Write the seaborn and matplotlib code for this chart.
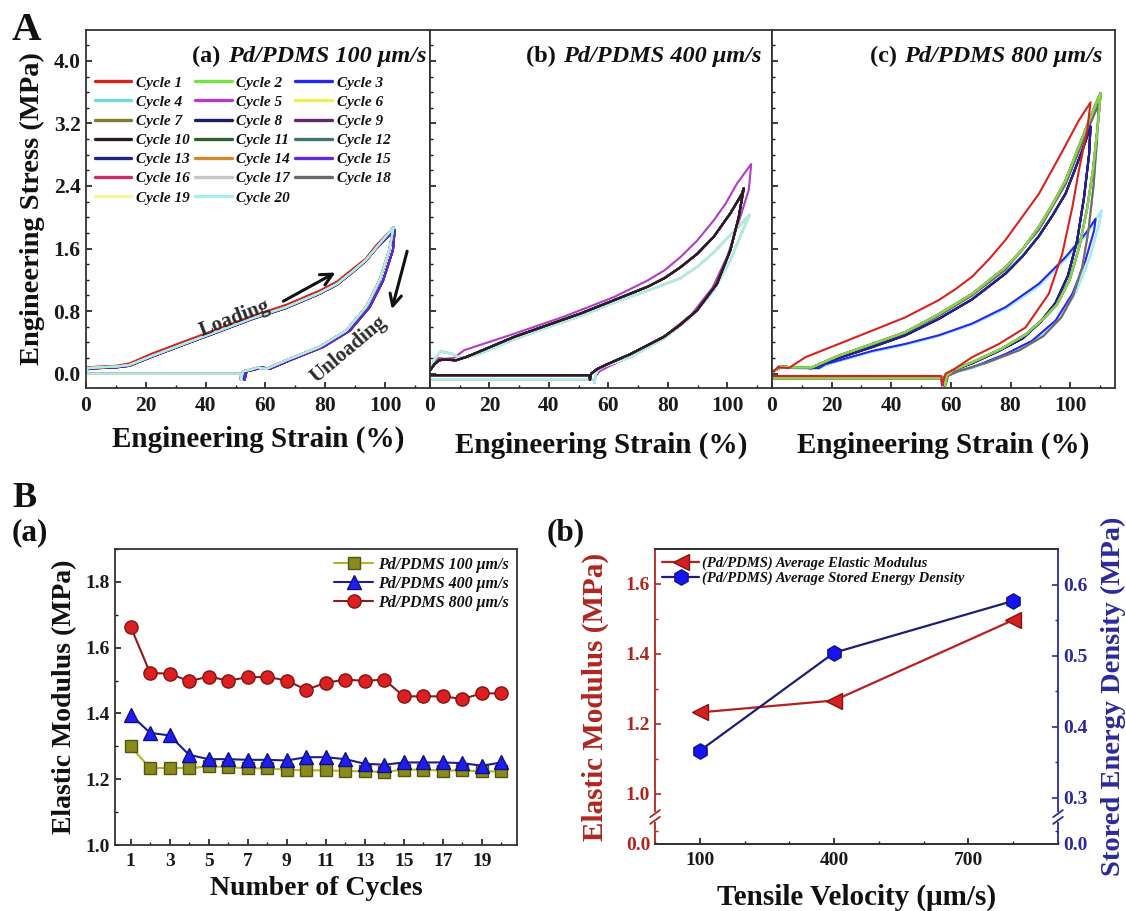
import numpy as np
import pandas as pd
import matplotlib
matplotlib.use("Agg")
import matplotlib.pyplot as plt
import matplotlib.ticker as mticker
from matplotlib.lines import Line2D
from matplotlib.offsetbox import TextArea, HPacker, AnchoredOffsetbox
import seaborn as sns

#%%
# data
# Panel A: stress-strain loops, strain (%) and stress (MPa)

# (a) 100 um/s
a_top_strain = [0, 0.5, 4, 10, 14.5, 22.3, 33.4, 44.6, 55.7, 66.9, 78.0, 84.0, 89.2, 93.5, 97.0, 102.6,
                101.4, 98.1, 93.6, 87.0, 78.0, 66.9, 60.2, 57.5, 55.0, 52.5, 51.8, 51.6, 0]
a_top_stress = [0.0, 0.08, 0.09, 0.10, 0.13, 0.26, 0.42, 0.58, 0.74, 0.88, 1.06, 1.18, 1.34, 1.47, 1.64, 1.86,
                1.58, 1.19, 0.85, 0.55, 0.34, 0.17, 0.06, 0.08, 0.05, 0.03, -0.08, 0.0, 0.0]
a_mid_strain = [0, 0.5, 4, 10, 14.5, 22.3, 33.4, 44.6, 55.7, 66.9, 78.0, 84.0, 89.2, 93.5, 97.0, 102.8,
                101.4, 98.1, 93.6, 87.0, 78.0, 66.9, 60.2, 57.5, 55.0, 52.5, 51.8, 51.6, 0]
a_mid_stress = [0.0, 0.07, 0.08, 0.09, 0.11, 0.23, 0.39, 0.55, 0.71, 0.85, 1.03, 1.15, 1.31, 1.45, 1.61, 1.87,
                1.58, 1.19, 0.85, 0.55, 0.34, 0.17, 0.06, 0.08, 0.05, 0.03, -0.08, 0.0, 0.0]
a_low_strain = [0, 0.5, 4, 10, 14.5, 22.3, 33.4, 44.6, 55.7, 66.9, 78.0, 84.0, 89.2, 93.5, 97.0, 103.2,
                102.6, 99.3, 94.8, 88.2, 79.2, 68.1, 61.4, 58.7, 56.2, 53.7, 53.0, 52.8, 0]
a_low_stress = [0.0, 0.06, 0.07, 0.08, 0.10, 0.22, 0.38, 0.54, 0.70, 0.84, 1.02, 1.14, 1.30, 1.44, 1.60, 1.84,
                1.58, 1.19, 0.85, 0.55, 0.34, 0.17, 0.06, 0.08, 0.05, 0.03, -0.08, 0.0, 0.0]

# (b) 400 um/s
b_main_strain = [0, 1.5, 3.0, 5.0, 8.7, 12.0, 17.1, 28.3, 39.5, 50.7, 61.9, 73.1, 78.8, 84.2, 89.8, 95.4, 101.0,
                 104.9, 105.5, 103.8, 101.0, 96.5, 89.8, 84.0, 78.6, 67.4, 59.6, 56.3, 54.2, 53.8, 53.6, 0]
b_main_stress = [0.04, 0.12, 0.17, 0.18, 0.17, 0.21, 0.29, 0.47, 0.62, 0.77, 0.94, 1.11, 1.22, 1.36, 1.53, 1.75, 2.05,
                 2.30, 2.37, 2.00, 1.58, 1.15, 0.81, 0.62, 0.47, 0.25, 0.12, 0.06, 0.0, -0.08, -0.02, -0.02]
b_high_strain = [0, 1.5, 3.0, 5.0, 8.0, 11.5, 28.3, 45.1, 61.9, 73.1, 78.8, 84.2, 89.8, 95.4, 99.5, 103.2, 108.0,
                 107.2, 104.3, 100.0, 95.0, 88.0, 78.0, 68.0, 60.0, 57.0, 55.5, 55.2, 55.0, 0]
b_high_stress = [0.04, 0.14, 0.20, 0.19, 0.20, 0.30, 0.51, 0.73, 0.98, 1.19, 1.32, 1.49, 1.70, 1.96, 2.18, 2.43, 2.68,
                 2.35, 2.00, 1.50, 1.10, 0.76, 0.45, 0.23, 0.09, 0.03, -0.04, -0.12, -0.07, -0.07]
b_low_strain = [0, 1.5, 3.7, 5.0, 7.0, 9.0, 12.0, 17.1, 28.3, 39.5, 50.7, 61.9, 73.1, 84.2, 90.0, 95.4,
                103.0, 107.5, 105.5, 101.0, 95.4, 87.6, 78.6, 67.4, 58.4, 56.3, 55.6, 55.4, 55.2, 0]
b_low_stress = [0.04, 0.18, 0.29, 0.27, 0.26, 0.22, 0.20, 0.26, 0.44, 0.59, 0.74, 0.91, 1.06, 1.22, 1.37, 1.55,
                1.85, 2.03, 1.86, 1.45, 1.06, 0.72, 0.45, 0.21, 0.09, 0.04, -0.02, -0.12, -0.07, -0.07]

# (c) 800 um/s
c_red_strain = [0, 2.2, 5.6, 11.2, 22.4, 33.6, 44.7, 55.9, 61.5, 67.1, 72.7, 78.3, 89.5, 97.3, 102.9, 106.8,
                105.7, 102.9, 100.7, 97.3, 92.8, 85.0, 76.1, 67.1, 60.4, 58.2, 57.0, 56.8, 0]
c_red_stress = [0.02, 0.08, 0.07, 0.21, 0.38, 0.55, 0.72, 0.94, 1.08, 1.24, 1.46, 1.71, 2.30, 2.84, 3.24, 3.47,
                3.12, 2.60, 2.13, 1.53, 1.02, 0.59, 0.38, 0.21, 0.04, 0.00, -0.15, -0.03, -0.03]
c_main_strain = [0, 3.4, 6.7, 13.4, 22.4, 33.6, 44.7, 55.9, 67.1, 78.3, 84.0, 89.5, 94.0, 98.4, 105.1, 109.1, 110.2,
                 109.3, 107.6, 105.6, 103.0, 99.8, 95.5, 91.5, 85.0, 77.0, 68.0, 61.0, 58.5, 58.0, 57.8, 0]
c_main_stress = [0.02, 0.09, 0.08, 0.08, 0.23, 0.38, 0.53, 0.76, 1.02, 1.36, 1.59, 1.88, 2.16, 2.47, 3.12, 3.50, 3.59,
                 3.20, 2.60, 2.10, 1.62, 1.20, 0.88, 0.72, 0.50, 0.32, 0.16, 0.05, -0.03, -0.15, -0.06, -0.06]
c_mid_strain = [0, 3.4, 6.7, 13.4, 22.4, 33.6, 44.7, 55.9, 67.1, 78.3, 84.0, 89.5, 94.0, 98.4, 104.0, 106.8,
                106.3, 104.6, 102.3, 99.2, 95.0, 90.0, 84.0, 76.0, 67.5, 60.5, 58.3, 57.8, 57.6, 0]
c_mid_stress = [0.02, 0.09, 0.08, 0.07, 0.20, 0.34, 0.49, 0.70, 0.95, 1.28, 1.50, 1.76, 2.02, 2.30, 2.85, 3.16,
                2.80, 2.25, 1.70, 1.25, 0.90, 0.66, 0.45, 0.29, 0.14, 0.04, -0.03, -0.15, -0.06, -0.06]
c_gray_strain = [0, 3.4, 6.7, 13.4, 22.4, 33.6, 44.7, 55.9, 67.1, 78.3, 89.5, 98.4, 105.1, 109.0, 109.5,
                 109.0, 107.8, 106.0, 104.0, 101.0, 97.0, 91.0, 83.0, 72.0, 63.0, 59.0, 58.2, 58.0, 0]
c_gray_stress = [0.02, 0.09, 0.08, 0.08, 0.22, 0.37, 0.52, 0.74, 1.00, 1.33, 1.84, 2.42, 3.05, 3.40, 3.45,
                 3.00, 2.40, 1.80, 1.36, 1.00, 0.72, 0.48, 0.30, 0.14, 0.04, -0.03, -0.15, -0.06, -0.06]
c_blue_strain = [0, 2.2, 6.7, 15.7, 17.9, 33.6, 44.7, 55.9, 67.1, 78.3, 89.5, 98.4, 105.1, 108.5,
                 108.0, 105.1, 100.7, 95.1, 87.2, 78.3, 67.1, 59.3, 57.5, 57.0, 56.8, 0]
c_blue_stress = [0.0, 0.09, 0.08, 0.07, 0.12, 0.29, 0.38, 0.49, 0.64, 0.85, 1.15, 1.49, 1.79, 1.98,
                 1.83, 1.45, 1.02, 0.68, 0.42, 0.25, 0.08, 0.0, -0.05, -0.15, -0.06, -0.06]
c_light_strain = [0, 2.2, 6.7, 15.7, 17.9, 33.6, 44.7, 55.9, 67.1, 78.3, 89.5, 98.4, 105.1, 110.5,
                  109.6, 106.5, 102.0, 96.5, 88.5, 79.5, 68.0, 59.8, 57.6, 57.1, 56.9, 0]
c_light_stress = [0.0, 0.08, 0.07, 0.06, 0.11, 0.28, 0.37, 0.48, 0.63, 0.83, 1.12, 1.46, 1.76, 2.09,
                  1.90, 1.48, 1.05, 0.70, 0.43, 0.25, 0.08, 0.0, -0.05, -0.15, -0.06, -0.06]

# which loop shape each of cycles 1..20 follows, and drawing order
a_assign = ["top", "mid", "low", "mid", "low", "mid", "low", "mid", "low", "mid",
            "low", "mid", "low", "mid", "low", "mid", "mid", "mid", "mid", "mid"]
b_assign = ["low", "low", "main", "low", "high", "low", "main", "main", "main", "main",
            "main", "main", "main", "main", "main", "main", "low", "main", "low", "low"]
c_assign = ["red", "main", "blue", "light", "main", "main", "mid", "mid", "main", "mid",
            "main", "mid", "mid", "main", "mid", "main", "gray", "gray", "main", "light"]
a_draw = list(range(1, 21))
b_draw = [1, 2, 4, 5, 6, 17, 19, 20, 3, 7, 9, 11, 12, 13, 14, 15, 16, 18, 8, 10]
c_draw = [4, 20, 3, 17, 18, 7, 10, 12, 15, 8, 13, 6, 9, 11, 14, 16, 19, 5, 2, 1]

cycle_colors = ["#D8221E", "#72E63A", "#2626F2", "#72D8DE", "#B03CC8",
                "#EEEE52", "#7C7E2C", "#1C1C66", "#64246E", "#2E1C1C",
                "#2E642C", "#3C766E", "#22228A", "#D4882A", "#6428DA",
                "#C42E6A", "#C6C6C6", "#6A6A6A", "#F8F49C", "#A6EEF0"]
cycle_names = [f"Cycle {i}" for i in range(1, 21)]

# Panel B(a): elastic modulus per cycle
cycle_no = list(range(1, 21))
em_100 = [1.300, 1.233, 1.235, 1.233, 1.239, 1.237, 1.233, 1.233, 1.229, 1.227,
          1.227, 1.225, 1.224, 1.222, 1.229, 1.229, 1.226, 1.227, 1.224, 1.224]
em_400 = [1.396, 1.341, 1.333, 1.274, 1.261, 1.261, 1.259, 1.259, 1.257, 1.267,
          1.267, 1.261, 1.247, 1.244, 1.251, 1.251, 1.251, 1.249, 1.241, 1.251]
em_800 = [1.664, 1.523, 1.521, 1.498, 1.512, 1.500, 1.510, 1.511, 1.500, 1.472,
          1.493, 1.503, 1.499, 1.503, 1.452, 1.452, 1.452, 1.444, 1.461, 1.461]

# Panel B(b): averages vs tensile velocity
velocity = [100, 400, 800]
avg_modulus = [1.233, 1.267, 1.497]
avg_energy = [0.366, 0.504, 0.577]

#%%
# style
sns.set_theme(style="ticks")
plt.rcParams.update({
    "font.family": ["Liberation Serif", "DejaVu Serif"],
    "font.weight": "bold",
    "axes.labelweight": "bold",
    "axes.linewidth": 1.3,
    "axes.edgecolor": "#333333",
    "axes.facecolor": "white",
    "figure.facecolor": "white",
    "xtick.direction": "in",
    "ytick.direction": "in",
    "xtick.major.size": 4, "ytick.major.size": 4,
    "xtick.minor.size": 2.3, "ytick.minor.size": 2.3,
    "xtick.major.width": 1.2, "ytick.major.width": 1.2,
    "xtick.minor.width": 1.0, "ytick.minor.width": 1.0,
    "xtick.color": "#1a1a1a", "ytick.color": "#1a1a1a",
    "text.color": "#111111", "axes.labelcolor": "#111111",
})

W, H = 1126, 911
fig = plt.figure(figsize=(W / 100, H / 100), dpi=100)


def px_rect(l, t, r, b):
    return [l / W, 1 - b / H, (r - l) / W, (b - t) / H]


def panel_title(ax, tag, name, xa):
    t1 = TextArea(tag, textprops=dict(size=17.5, weight="bold"))
    t2 = TextArea(name, textprops=dict(size=17.5, weight="bold", style="italic"))
    box = HPacker(children=[t1, t2], align="baseline", pad=0, sep=1)
    ab = AnchoredOffsetbox(loc="upper right", child=box, pad=0, borderpad=0,
                           frameon=False, bbox_to_anchor=(xa, 0.955),
                           bbox_transform=ax.transAxes)
    ax.add_artist(ab)


#%%
# Panel A: cyclic stress-strain loops
loops_a = {"top": (a_top_strain, a_top_stress), "mid": (a_mid_strain, a_mid_stress),
           "low": (a_low_strain, a_low_stress)}
loops_b = {"main": (b_main_strain, b_main_stress), "high": (b_high_strain, b_high_stress),
           "low": (b_low_strain, b_low_stress)}
loops_c = {"red": (c_red_strain, c_red_stress), "main": (c_main_strain, c_main_stress),
           "mid": (c_mid_strain, c_mid_stress), "gray": (c_gray_strain, c_gray_stress),
           "blue": (c_blue_strain, c_blue_stress), "light": (c_light_strain, c_light_stress)}

palette = dict(zip(cycle_names, cycle_colors))

axA = [fig.add_axes(px_rect(86, 30, 430, 388)),
       fig.add_axes(px_rect(430, 30, 772, 388)),
       fig.add_axes(px_rect(772, 30, 1115, 388))]

panels = [
    (axA[0], loops_a, a_assign, a_draw, "(a) ", "Pd/PDMS 100 μm/s", 0.99),
    (axA[1], loops_b, b_assign, b_draw, "(b) ", "Pd/PDMS 400 μm/s", 0.97),
    (axA[2], loops_c, c_assign, c_draw, "(c) ", "Pd/PDMS 800 μm/s", 0.965),
]

for ax, loops, assign, draw, tag, name, xa in panels:
    frames = []
    for k, key in enumerate(assign):
        s, t = loops[key]
        frames.append(pd.DataFrame({"strain": s, "stress": t, "cycle": cycle_names[k]}))
    df = pd.concat(frames, ignore_index=True)
    sns.lineplot(data=df, x="strain", y="stress", hue="cycle",
                 hue_order=[cycle_names[i - 1] for i in draw],
                 palette=palette, sort=False, estimator=None, linewidth=1.5,
                 legend=False, ax=ax)
    ax.set_xlim(0, 115)
    ax.set_ylim(-0.184, 4.395)
    ax.xaxis.set_major_locator(mticker.MultipleLocator(20))
    ax.xaxis.set_minor_locator(mticker.MultipleLocator(10))
    ax.yaxis.set_major_locator(mticker.MultipleLocator(0.8))
    ax.yaxis.set_minor_locator(mticker.MultipleLocator(0.2))
    ax.xaxis.set_major_formatter(mticker.FormatStrFormatter("%d"))
    ax.yaxis.set_major_formatter(mticker.FormatStrFormatter("%.1f"))
    ax.tick_params(axis="x", which="major", labelsize=15.5, pad=6)
    ax.tick_params(axis="y", which="major", labelsize=15.5, pad=4)
    ax.set_xlabel("Engineering Strain (%)", fontsize=21, labelpad=11)
    ax.set_ylabel("")
    panel_title(ax, tag, name, xa)

axA[0].set_ylabel("Engineering Stress (MPa)", fontsize=20.5, labelpad=6)
axA[0].xaxis.labelpad = 7
for ax in axA[1:]:
    ax.tick_params(axis="y", labelleft=False)

# cycle legend, filled row by row like the original
leg_order = list(range(0, 20, 3)) + list(range(1, 20, 3)) + list(range(2, 20, 3))
handles = [Line2D([], [], color=cycle_colors[i], lw=2.4) for i in leg_order]
labels = [cycle_names[i] for i in leg_order]
axA[0].legend(handles, labels, ncol=3, loc="upper left", bbox_to_anchor=(0.025, 0.872),
              frameon=False, prop=dict(size=11, weight="bold", style="italic"),
              handlelength=2.4, handletextpad=0.3, columnspacing=0.35,
              labelspacing=0.36, borderpad=0, borderaxespad=0)

# loading / unloading annotations
axA[0].annotate("", xy=(84.2, 1.31), xytext=(65.2, 0.91),
                arrowprops=dict(arrowstyle="->,head_length=0.7,head_width=0.35",
                                lw=2.2, color="#111111"))
axA[0].annotate("", xy=(102.0, 0.79), xytext=(107.6, 1.60),
                arrowprops=dict(arrowstyle="->,head_length=0.7,head_width=0.35",
                                lw=2.2, color="#111111"))
axA[0].text(49.8, 0.71, "Loading", rotation=21, fontsize=15, color="#2a2a2a",
            ha="center", va="center", rotation_mode="anchor")
axA[0].text(87.7, 0.31, "Unloading", rotation=40, fontsize=15, color="#2a2a2a",
            ha="center", va="center", rotation_mode="anchor")

#%%
# Panel B(a): elastic modulus vs cycle number
axd = fig.add_axes(px_rect(115, 549, 517, 845))
sns.lineplot(x=cycle_no, y=em_100, marker="s", markersize=8, color="#B4B424",
             markerfacecolor="#8A8A1E", markeredgecolor="#55550E", markeredgewidth=1.0,
             linewidth=1.5, label="Pd/PDMS 100 μm/s", ax=axd)
sns.lineplot(x=cycle_no, y=em_400, marker="^", markersize=10, color="#1C1C96",
             markerfacecolor="#1E1EF2", markeredgecolor="#10107A", markeredgewidth=1.0,
             linewidth=1.5, label="Pd/PDMS 400 μm/s", ax=axd)
sns.lineplot(x=cycle_no, y=em_800, marker="o", markersize=9.5, color="#8E1A1A",
             markerfacecolor="#DA2020", markeredgecolor="#8B1010", markeredgewidth=1.0,
             linewidth=1.5, label="Pd/PDMS 800 μm/s", ax=axd)
axd.set_xlim(0.2, 20.8)
axd.set_ylim(1.0, 1.9)
axd.xaxis.set_major_locator(mticker.FixedLocator(list(range(1, 20, 2))))
axd.xaxis.set_minor_locator(mticker.MultipleLocator(1))
axd.yaxis.set_major_locator(mticker.MultipleLocator(0.2))
axd.yaxis.set_minor_locator(mticker.MultipleLocator(0.1))
axd.yaxis.set_major_formatter(mticker.FormatStrFormatter("%.1f"))
axd.tick_params(axis="both", which="major", labelsize=14)
axd.tick_params(axis="x", which="major", pad=6)
axd.set_xlabel("Number of Cycles", fontsize=20, labelpad=4)
axd.set_ylabel("Elastic Modulus (MPa)", fontsize=20, labelpad=6)
axd.legend(loc="upper right", frameon=False, borderpad=0.2, borderaxespad=0.3,
           prop=dict(size=11.5, weight="bold", style="italic"),
           handlelength=2.4, handletextpad=0.35, labelspacing=0.18)

#%%
# Panel B(b): averages vs tensile velocity, broken y axes
red_c, blue_c = "#B0261E", "#2A2A9A"
axe = fig.add_axes(px_rect(655, 549, 1058, 844))
axe2 = axe.twinx()

left_v, left_u = [-1.0, 0.0, 0.2, 0.934, 3.0], [-0.385, 0.0, 0.0770, 0.0771, 2.1431]
right_v, right_u = [-1.0, 0.0, 0.1, 0.2729, 3.0], [-0.38, 0.0, 0.0380, 0.0381, 2.7652]
axe.set_yscale("function", functions=(lambda v: np.interp(v, left_v, left_u),
                                      lambda u: np.interp(u, left_u, left_v)))
axe2.set_yscale("function", functions=(lambda v: np.interp(v, right_v, right_u),
                                       lambda u: np.interp(u, right_u, right_v)))

sns.lineplot(x=velocity, y=avg_modulus, marker="<", markersize=11, color="#B52020",
             markerfacecolor="#D42020", markeredgecolor="#8B1010", markeredgewidth=1.0,
             linewidth=1.6, label="(Pd/PDMS) Average Elastic Modulus", legend=False, ax=axe)
sns.lineplot(x=velocity, y=avg_energy, marker="h", markersize=11, color="#1E1E78",
             markerfacecolor="#1414F5", markeredgecolor="#10108A", markeredgewidth=1.0,
             linewidth=1.6, label="(Pd/PDMS) Average Stored Energy Density", legend=False,
             ax=axe2)

axe.set_xlim(0, 900)
axe.set_ylim(0, 1.7)
axe2.set_ylim(0, 0.65)
axe.xaxis.set_major_locator(mticker.FixedLocator([100, 400, 700]))
axe.xaxis.set_minor_locator(mticker.MultipleLocator(100))
axe.yaxis.set_major_locator(mticker.FixedLocator([0.0, 1.0, 1.2, 1.4, 1.6]))
axe.yaxis.set_minor_locator(mticker.FixedLocator([0.1, 1.1, 1.3, 1.5]))
axe2.yaxis.set_major_locator(mticker.FixedLocator([0.0, 0.3, 0.4, 0.5, 0.6]))
axe2.yaxis.set_minor_locator(mticker.FixedLocator([0.05, 0.35, 0.45, 0.55]))
axe.yaxis.set_major_formatter(mticker.FormatStrFormatter("%.1f"))
axe2.yaxis.set_major_formatter(mticker.FormatStrFormatter("%.1f"))
axe.tick_params(axis="x", which="major", labelsize=14, pad=6)
axe.tick_params(axis="y", which="both", colors=red_c, labelsize=14)
axe2.tick_params(axis="y", which="both", colors=blue_c, labelsize=14)
axe.spines["left"].set_color(red_c)
axe.spines["right"].set_visible(False)
axe2.spines["left"].set_visible(False)
axe2.spines["right"].set_color(blue_c)
axe.set_xlabel("Tensile Velocity (μm/s)", fontsize=21, labelpad=10)
axe.set_ylabel("Elastic Modulus (MPa)", fontsize=21, color=red_c, labelpad=12)
axe2.set_ylabel("Stored Energy Density (MPa)", fontsize=20.5, color=blue_c, labelpad=10)

# axis break marks
for xs, col in [(0.0, red_c), (1.0, blue_c)]:
    axe2.plot([xs, xs], [0.08, 0.103], color="white", lw=3, transform=axe2.transAxes,
              clip_on=False, zorder=6)
    for yb in (0.08, 0.103):
        axe2.plot([xs - 0.012, xs + 0.012], [yb - 0.012, yb + 0.012], color=col, lw=1.3,
                  transform=axe2.transAxes, clip_on=False, zorder=7)

handles = axe.get_lines()[:1] + axe2.get_lines()[:1]
axe2.legend(handles, [h.get_label() for h in handles], loc="upper left",
            frameon=False, borderpad=0.1, borderaxespad=0.4,
            prop=dict(size=10.5, weight="bold", style="italic"),
            handlelength=2.5, handletextpad=0.2, labelspacing=0.15)

#%%
# panel letters
fig.text(12 / W, 1 - 40 / H, "A", fontsize=29.5, weight="bold", va="baseline")
fig.text(12 / W, 1 - 507 / H, "B", fontsize=26, weight="bold", va="baseline")
fig.text(12 / W, 1 - 540 / H, "(a)", fontsize=22.5, weight="bold", va="baseline")
fig.text(547 / W, 1 - 540 / H, "(b)", fontsize=22.5, weight="bold", va="baseline")

fig.savefig("out.png", dpi=100)
plt.close(fig)
